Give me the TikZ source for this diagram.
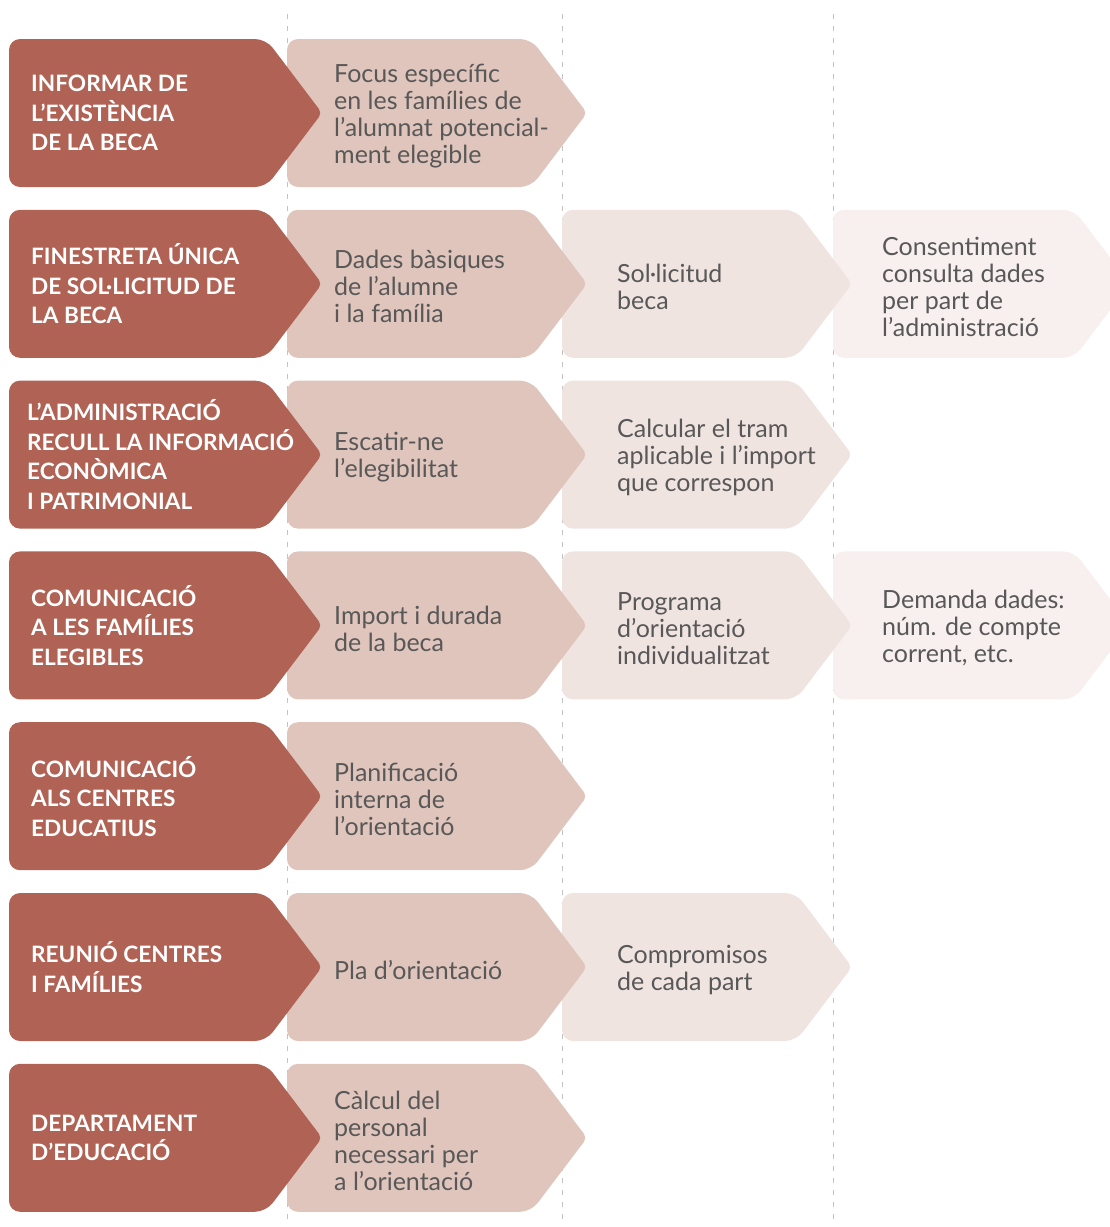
\documentclass[tikz,border=0pt]{standalone}
\usepackage{fontspec}
\setmainfont{Lato}
\usepackage{tikz}
\usetikzlibrary{calc}
\definecolor{BecaDark}{RGB}{176,99,85}
\definecolor{BecaMid}{RGB}{224,197,188}
\definecolor{BecaLight}{RGB}{240,228,225}
\definecolor{BecaPale}{RGB}{247,240,238}
\definecolor{BecaText}{RGB}{88,88,88}
\definecolor{GuideGray}{RGB}{195,195,195}
% chevron: left x, top y, tip x, colour
\newcommand{\chevron}[4]{%
  \fill[#4, rounded corners=11pt] (#1,#2) -- ($(#3,#2)+(-56,0)$)
    [rounded corners=5pt] -- ($(#3,#2)+(0,74)$)
    [rounded corners=11pt] -- ($(#3,#2)+(-56,148)$) -- ($(#1,#2)+(0,148)$) -- cycle;
}

\begin{document}
\begin{tikzpicture}[x=1pt, y=-1pt,
    heading/.style={anchor=west, align=left, inner sep=0pt, text=white, font=\bfseries\fontsize{22.6}{29.5}\selectfont},
    itemtext/.style={anchor=west, align=left, inner sep=0pt, yshift=-3pt, text=BecaText, font=\fontsize{25}{27}\selectfont}]
\useasboundingbox (0,0) rectangle (1110,1227);
\clip (0,0) rectangle (1110,1227);

% column guides
\foreach \gx in {287,562,833}
    \draw[GuideGray, line width=1pt, dash pattern=on 5pt off 7pt] (\gx,14) -- (\gx,1222);

% fourth column
\foreach \r/\txt in {2/{Consentiment\\consulta dades\\per part de\\l’administració},
                     4/{Demanda dades:\\núm. de compte\\corrent, etc.}} {
    \pgfmathsetmacro{\rowy}{39+(\r-1)*170.8}
    \chevron{833}{\rowy}{1130}{BecaPale}
    \node[itemtext] (fourth\r) at (882,{\rowy+74}) {\txt};
}

% third column
\foreach \r/\txt in {2/{Sol·licitud\\beca},
                     3/{Calcular el tram\\aplicable i l’import\\que correspon},
                     4/{Programa\\d’orientació\\individualitzat},
                     6/{Compromisos\\de cada part}} {
    \pgfmathsetmacro{\rowy}{39+(\r-1)*170.8}
    \chevron{562}{\rowy}{852}{BecaLight}
    \node[itemtext] (third\r) at (617,{\rowy+74}) {\txt};
}

% headings and second column
\foreach \r/\hx/\head/\txt in {
    1/31/{INFORMAR DE\\L’EXISTÈNCIA\\DE LA BECA}/{Focus específic\\en les famílies de\\l’alumnat potencial-\\ment elegible},
    2/31/{FINESTRETA ÚNICA\\DE SOL·LICITUD DE\\LA BECA}/{Dades bàsiques\\de l’alumne\\i la família},
    3/27/{L’ADMINISTRACIÓ\\RECULL LA INFORMACIÓ\\ECONÒMICA\\I PATRIMONIAL}/{Escatir-ne\\l’elegibilitat},
    4/31/{COMUNICACIÓ\\A LES FAMÍLIES\\ELEGIBLES}/{Import i durada\\de la beca},
    5/31/{COMUNICACIÓ\\ALS CENTRES\\EDUCATIUS}/{Planificació\\interna de\\l’orientació},
    6/31/{REUNIÓ CENTRES\\I FAMÍLIES}/{Pla d’orientació},
    7/31/{DEPARTAMENT\\D’EDUCACIÓ}/{Càlcul del\\personal\\necessari per\\a l’orientació}} {
    \pgfmathsetmacro{\rowy}{39+(\r-1)*170.8}
    \chevron{287}{\rowy}{587}{BecaMid}
    \node[itemtext] (second\r) at (334,{\rowy+74}) {\txt};
    \chevron{9}{\rowy}{322}{BecaDark}
    \node[heading] (head\r) at (\hx,{\rowy+74}) {\head};
}
\end{tikzpicture}
\end{document}
